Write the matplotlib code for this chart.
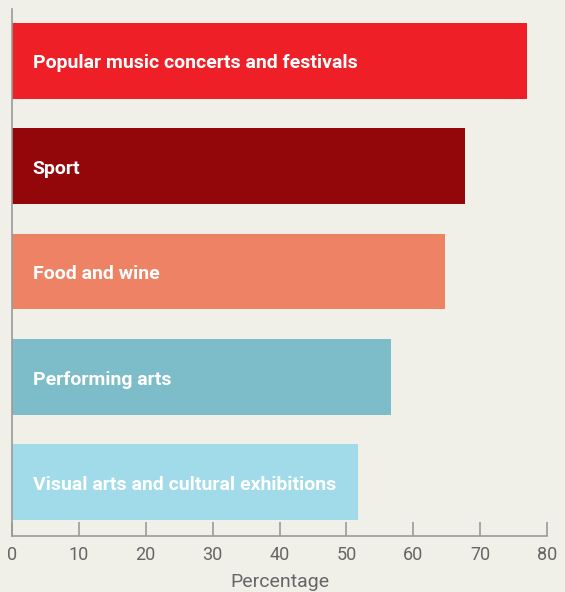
import matplotlib
matplotlib.use('Agg')
import matplotlib.pyplot as plt

# Данные
categories = ['Popular music concerts and festivals', 'Sport', 'Food and wine',
              'Performing arts', 'Visual arts and cultural exhibitions']
values = [77, 67.8, 64.8, 56.7, 51.7]
colors = ['#EE1F26', '#93070A', '#EE8264', '#7DBCC9', '#A1DAE8']
xticks = [0, 10, 20, 30, 40, 50, 60, 70, 80]

bg = '#F0EFE8'
axis_col = '#9A9A9A'
text_col = '#666666'

fig = plt.figure(figsize=(5.65, 5.92), dpi=100, facecolor=bg)
ax = fig.add_axes([12 / 565, 56 / 592, 535 / 565, 527 / 592], facecolor=bg)

pos = list(range(len(categories)))
ax.barh(pos, values, height=0.72, color=colors, zorder=2)

for p, cat in zip(pos, categories):
    ax.annotate(cat, xy=(0, p), xytext=(15, -2), textcoords='offset points',
                ha='left', va='center', color='white', fontsize=14,
                fontweight='bold', family='Roboto', zorder=3)

ax.set_xlim(0, 80)
ax.set_ylim(4.51, -0.49)
ax.set_xticks(xticks)
ax.set_xticklabels([str(t) for t in xticks], family='Roboto', fontsize=13, color=text_col)
ax.set_yticks([])
ax.tick_params(axis='x', direction='in', length=10, width=1.2, color=axis_col, pad=7)
for s in ['top', 'right']:
    ax.spines[s].set_visible(False)
for s in ['left', 'bottom']:
    ax.spines[s].set_color(axis_col)
    ax.spines[s].set_linewidth(1.2)

ax.set_xlabel('Percentage', family='Roboto', fontsize=14, color=text_col, labelpad=7)

fig.savefig('out.png', dpi=100, facecolor=bg)
